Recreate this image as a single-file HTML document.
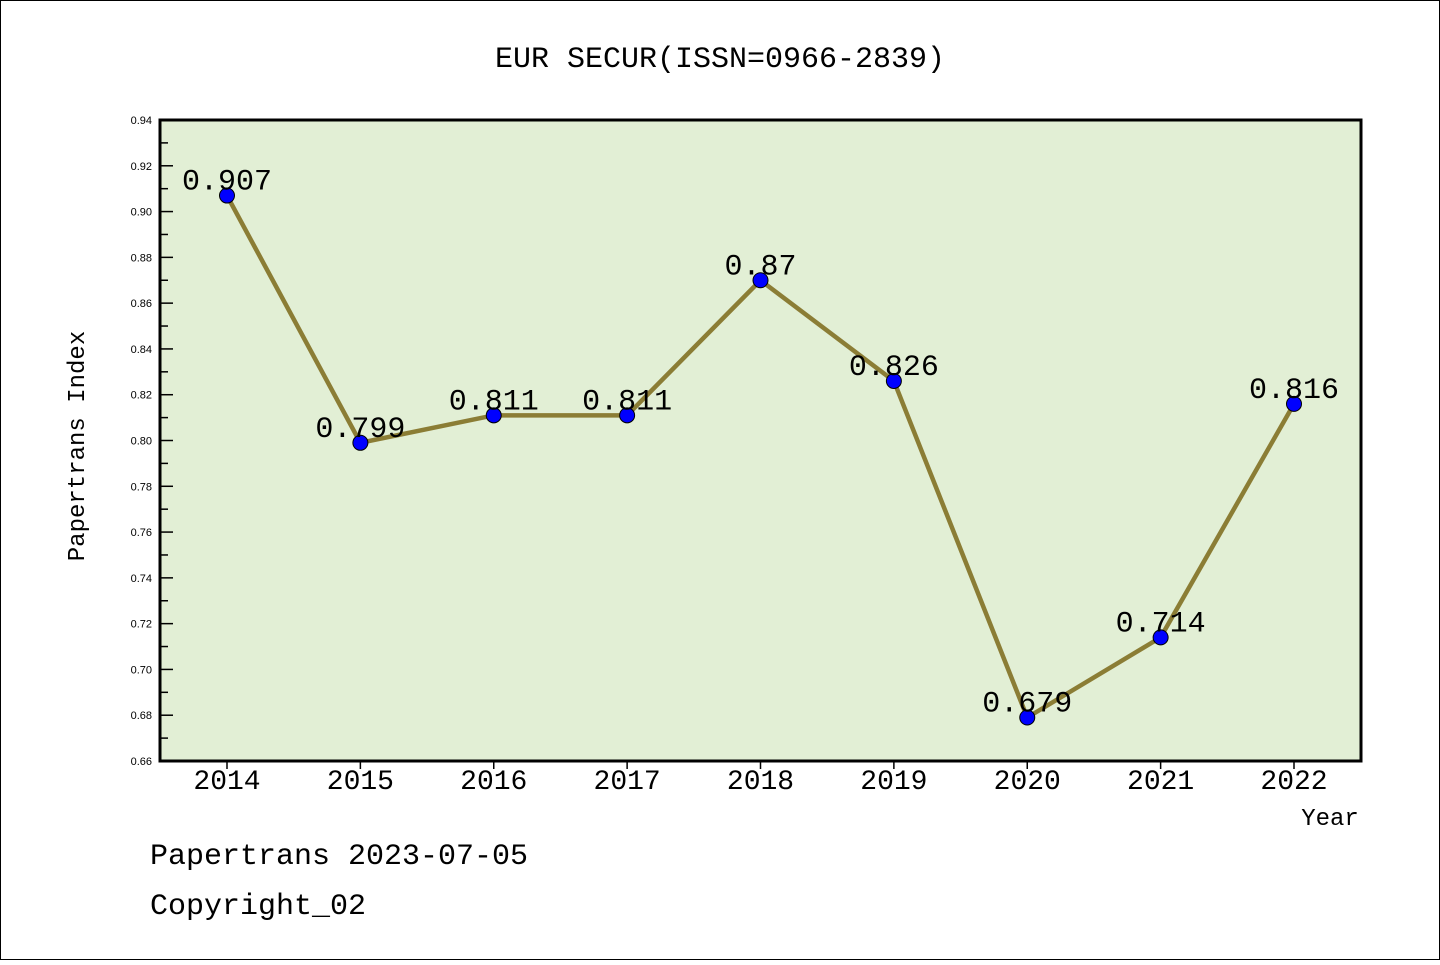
<!DOCTYPE html>
<html><head><meta charset="utf-8"><style>
body{margin:0;background:#fff}
svg text{font-family:"Liberation Mono",monospace}
svg text.tk{font-family:"Liberation Sans",sans-serif}
</style></head><body>
<svg width="1440" height="960">
<rect x="0.5" y="0.5" width="1439" height="959" fill="#fff" stroke="#000"/>
<text x="720" y="67" font-size="30" text-anchor="middle">EUR SECUR(ISSN=0966-2839)</text>
<rect x="160" y="120" width="1201" height="641" fill="#e2efd5" stroke="#000" stroke-width="3"/>
<g id="yaxis"></g>
<g id="xaxis"></g>
<text transform="translate(84,446) rotate(-90)" font-size="24" text-anchor="middle">Papertrans Index</text>
<text x="1330" y="825" font-size="24" text-anchor="middle">Year</text>
<g id="series"></g>
<text x="150" y="864" font-size="30">Papertrans 2023-07-05</text>
<text x="150" y="914" font-size="30">Copyright_02</text>
</svg>
<script>
const years=["2014","2015","2016","2017","2018","2019","2020","2021","2022"];
const values=[0.907,0.799,0.811,0.811,0.87,0.826,0.679,0.714,0.816];
const labels=["0.907","0.799","0.811","0.811","0.87","0.826","0.679","0.714","0.816"];
const yTicks=[0.66,0.68,0.70,0.72,0.74,0.76,0.78,0.80,0.82,0.84,0.86,0.88,0.90,0.92,0.94];
const NS="http://www.w3.org/2000/svg";
const y=v=>761-(v-0.66)/0.28*641;
const x=i=>227+i*133.375;
function mk(t,a,p){const e=document.createElementNS(NS,t);for(const k in a)e.setAttribute(k,a[k]);p.appendChild(e);return e;}
const ya=document.getElementById('yaxis');
yTicks.forEach((v,i)=>{
  const l=mk('line',{x1:160,x2:173,y1:y(v),y2:y(v),stroke:'#000','stroke-width':1.5},ya);
  
  
  const t=mk('text',{x:152,y:y(v)+4,'font-size':11,'text-anchor':'end','class':'tk'},ya);t.textContent=v.toFixed(2);
  
  
  if(i<yTicks.length-1){const m=mk('line',{x1:160,x2:168,y1:y(v+0.01),y2:y(v+0.01),stroke:'#000','stroke-width':1.5},ya);
  
  }
});
const xa=document.getElementById('xaxis');
years.forEach((yr,i)=>{
  const l=mk('line',{x1:x(i),x2:x(i),y1:761,y2:769,stroke:'#000','stroke-width':1.5},xa);
  
  
  const t=mk('text',{x:x(i),y:789,'font-size':28,'text-anchor':'middle'},xa);t.textContent=yr;
  
  
});
const s=document.getElementById('series');
const pl=mk('polyline',{points:values.map((v,i)=>x(i)+','+y(v)).join(' '),fill:'none',stroke:'#8b7d35','stroke-width':4.5},s);


values.forEach((v,i)=>{
  const c=mk('circle',{cx:x(i),cy:y(v),r:7.5,fill:'#0000ff',stroke:'#000','stroke-width':1},s);
  
  
  const t=mk('text',{x:x(i),y:y(v)-6,'font-size':30,'text-anchor':'middle'},s);t.textContent=labels[i];
  
  
});
</script>
</body></html>
